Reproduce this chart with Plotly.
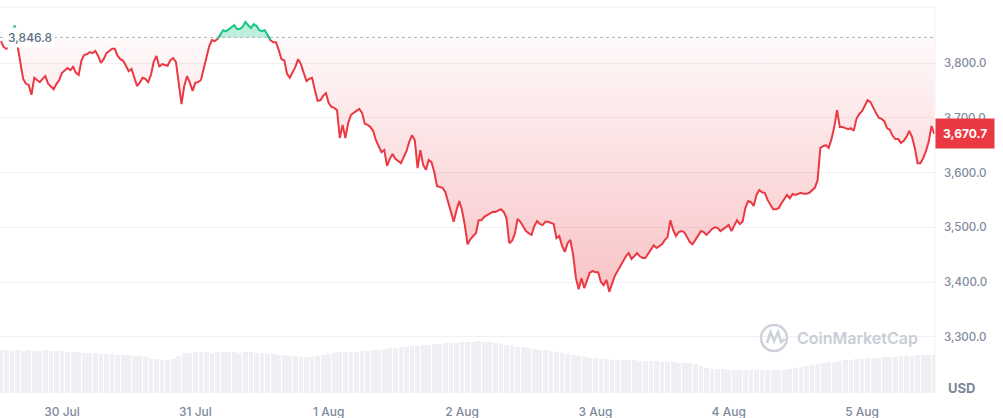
import numpy as np
import pandas as pd
import plotly.graph_objects as go

# ---------------- data ----------------
start_time = "2024-07-29 13:00"          # first price sample, 30-min steps
prices = [
    3840, 3829, 3826, 3840, 3857, 3868, 3831, 3802, 3771, 3762,
    3760, 3742, 3773, 3769, 3765, 3771, 3776, 3762, 3756, 3752,
    3762, 3769, 3782, 3787, 3791, 3787, 3793, 3782, 3778, 3805,
    3815, 3816, 3820, 3818, 3822, 3813, 3800, 3807, 3818, 3822,
    3826, 3826, 3813, 3807, 3804, 3795, 3785, 3789, 3773, 3758,
    3764, 3773, 3771, 3765, 3778, 3802, 3813, 3793, 3798, 3796,
    3795, 3805, 3809, 3802, 3765, 3725, 3758, 3776, 3764, 3749,
    3764, 3765, 3769, 3791, 3809, 3831, 3842, 3840, 3844, 3851,
    3860, 3858, 3862, 3866, 3869, 3862, 3862, 3866, 3875, 3869,
    3864, 3871, 3868, 3860, 3858, 3860, 3851, 3842, 3838, 3838,
    3824, 3807, 3805, 3780, 3773, 3782, 3793, 3807, 3798, 3782,
    3767, 3771, 3773, 3751, 3731, 3732, 3740, 3745, 3727, 3720,
    3718, 3714, 3663, 3687, 3663, 3690, 3705, 3709, 3712, 3716,
    3709, 3689, 3687, 3683, 3676, 3659, 3648, 3637, 3641, 3612,
    3625, 3634, 3625, 3621, 3617, 3628, 3639, 3656, 3668, 3659,
    3608, 3641, 3614, 3605, 3623, 3619, 3601, 3575, 3574, 3572,
    3564, 3546, 3528, 3510, 3531, 3548, 3531, 3504, 3469, 3478,
    3484, 3489, 3513, 3513, 3519, 3522, 3526, 3528, 3528, 3530,
    3533, 3528, 3517, 3471, 3475, 3488, 3515, 3510, 3500, 3493,
    3489, 3486, 3502, 3511, 3506, 3504, 3510, 3510, 3508, 3506,
    3480, 3484, 3466, 3455, 3471, 3477, 3449, 3407, 3387, 3407,
    3389, 3404, 3417, 3420, 3418, 3418, 3400, 3394, 3404, 3382,
    3398, 3411, 3420, 3429, 3440, 3447, 3453, 3442, 3447, 3453,
    3447, 3444, 3444, 3451, 3458, 3467, 3462, 3466, 3469, 3477,
    3482, 3513, 3495, 3484, 3491, 3493, 3491, 3482, 3473, 3469,
    3477, 3484, 3493, 3491, 3486, 3491, 3497, 3500, 3499, 3493,
    3497, 3500, 3504, 3493, 3502, 3513, 3506, 3510, 3535, 3548,
    3546, 3539, 3559, 3568, 3564, 3563, 3550, 3541, 3533, 3533,
    3535, 3544, 3552, 3559, 3553, 3561, 3559, 3561, 3563, 3561,
    3561, 3563, 3568, 3572, 3586, 3645, 3648, 3650, 3645, 3661,
    3683, 3714, 3683, 3683, 3681, 3679, 3681, 3676, 3698, 3707,
    3712, 3721, 3732, 3729, 3718, 3709, 3700, 3698, 3694, 3681,
    3678, 3667, 3661, 3661, 3654, 3658, 3665, 3676, 3665, 3645,
    3617, 3617, 3626, 3639, 3656, 3685, 3670.7,
]
# hourly volume (billions USD), first sample at start_time
volumes = [
    4.46, 4.46, 4.35, 4.46, 4.35, 4.46, 4.35, 4.35, 4.46, 4.35, 4.35,
    4.35, 4.25, 4.25, 4.25, 4.15, 4.15, 4.15, 4.04, 4.04, 4.04,
    3.94, 3.94, 3.94, 3.83, 3.83, 3.73, 3.63,
    3.52, 3.42, 3.42, 3.52, 3.83, 4.15,
    4.15, 4.25, 4.25, 4.25, 4.15, 4.25, 4.25, 4.25, 4.25, 4.15, 4.25, 4.25,
    4.15, 4.15, 4.04, 4.04, 3.94, 3.94, 3.83, 3.83, 3.73, 3.73, 3.73,
    3.83, 3.94, 4.04, 4.15, 4.25, 4.25, 4.25, 4.25, 4.35,
    4.35, 4.46, 4.46, 4.56, 4.66, 4.66, 4.77,
    4.77, 4.87, 4.87, 4.97, 4.97, 5.08, 5.08, 5.18, 5.18, 5.18,
    5.28, 5.28, 5.28, 5.39, 5.28, 5.28,
    5.18, 5.08, 4.97, 4.87, 4.77, 4.77, 4.66, 4.56,
    4.46, 4.46, 4.35, 4.25, 4.15, 4.04, 3.94, 3.83,
    3.73, 3.63, 3.63, 3.52, 3.52, 3.42, 3.42, 3.42,
    3.42, 3.42, 3.32, 3.32, 3.32, 3.32, 3.21, 3.21,
    3.21, 3.11, 3.11, 3.11, 3.01, 2.80, 2.59, 2.49,
    2.49, 2.49, 2.38, 2.38, 2.38, 2.38, 2.38, 2.38, 2.38, 2.38, 2.38, 2.38,
    2.38, 2.49, 2.59, 2.69, 2.80, 2.90, 3.01, 3.11,
    3.21, 3.21, 3.32, 3.42, 3.42, 3.52, 3.52, 3.63, 3.63,
    3.63, 3.73, 3.73, 3.73, 3.83, 3.83, 3.83, 3.94, 3.94, 3.94, 3.94,
]
baseline = 3846.8
last_price = 3670.7
price_ticks = [3300, 3400, 3500, 3600, 3700, 3800]
day_ticks = pd.date_range("2024-07-30", "2024-08-05", freq="D")
x_range = ["2024-07-29 12:50", "2024-08-05 13:08"]
y_range = [3197.3, 3902.3]

# ---------------- styling ----------------
RED = "#ea3943"
GREEN = "#16c784"
GRAY = "#808a9d"
FONT = "Inter, 'Noto Sans', sans-serif"

t0 = pd.Timestamp(start_time)
times = t0 + pd.to_timedelta(np.arange(len(prices)) * 30, unit="min")
vtimes = t0 + pd.to_timedelta(np.arange(len(volumes)), unit="h")

p = np.array(prices, dtype=float)
base = np.full_like(p, baseline)
below = np.minimum(p, baseline)
above = np.maximum(p, baseline)
is_below = p <= baseline
is_above = p >= baseline
red_mask = is_below | np.r_[is_below[1:], False] | np.r_[False, is_below[:-1]]
green_mask = is_above | np.r_[is_above[1:], False] | np.r_[False, is_above[:-1]]
red_line = np.where(red_mask, p, np.nan)
green_line = np.where(green_mask, p, np.nan)

fig = go.Figure()

fig.add_trace(go.Bar(
    x=vtimes, y=volumes, yaxis="y2",
    marker=dict(color="#eef0f4", line=dict(width=0)),
    width=3600 * 1000 * 0.85, hoverinfo="skip",
))

fig.add_trace(go.Scatter(x=times, y=base, mode="lines",
                         line=dict(width=0, color="rgba(0,0,0,0)"), hoverinfo="skip"))
fig.add_trace(go.Scatter(
    x=times, y=below, mode="lines", fill="tonexty",
    line=dict(width=0, color="rgba(0,0,0,0)"),
    fillgradient=dict(type="vertical",
                      colorscale=[[0, "rgba(234,57,67,0.30)"], [1, "rgba(234,57,67,0.03)"]],
                      start=float(p.min()), stop=baseline),
    hoverinfo="skip",
))
fig.add_trace(go.Scatter(x=times, y=base, mode="lines",
                         line=dict(width=0, color="rgba(0,0,0,0)"), hoverinfo="skip"))
fig.add_trace(go.Scatter(
    x=times, y=above, mode="lines", fill="tonexty",
    line=dict(width=0, color="rgba(0,0,0,0)"),
    fillcolor="rgba(22,199,132,0.28)", hoverinfo="skip",
))
fig.add_trace(go.Scatter(x=times, y=red_line, mode="lines",
                         line=dict(color=RED, width=2), connectgaps=False))
fig.add_trace(go.Scatter(x=times, y=green_line, mode="lines",
                         line=dict(color=GREEN, width=2), connectgaps=False))

# baseline dotted
fig.add_shape(type="line", xref="paper", x0=0, x1=1, yref="y", y0=baseline, y1=baseline,
              line=dict(color="#a7b1c2", width=1, dash="dot"))
# frame lines (top & right)
fig.add_shape(type="line", xref="paper", yref="paper", x0=0, x1=1, y0=1, y1=1,
              line=dict(color="#eef0f4", width=1))
fig.add_shape(type="line", xref="paper", yref="paper", x0=1, x1=1, y0=0, y1=1,
              line=dict(color="#eef0f4", width=1))

# watermark logo (decoration)
PW, PH, PB = 935.0, 386.0, 393.0
def px(x, y):
    return x / PW, (PB - y) / PH
cx0, cy0 = px(761, 351)
cx1, cy1 = px(787, 325)
fig.add_shape(type="circle", xref="paper", yref="paper", x0=cx0, y0=cy0, x1=cx1, y1=cy1,
              line=dict(color="#cdd1da", width=2.5))
pts = [px(767, 343), px(770.5, 332), px(774, 341), px(778, 332), px(781, 342), px(785, 339)]
path = "M " + " L ".join(f"{a:.5f},{b:.5f}" for a, b in pts)
fig.add_shape(type="path", xref="paper", yref="paper", path=path,
              line=dict(color="#cdd1da", width=2.5))

wx, wy = px(795, 338)
fig.add_annotation(xref="paper", yref="paper", x=wx, y=wy, xanchor="left", yanchor="middle",
                   text="CoinMarketCap", showarrow=False,
                   font=dict(family=FONT, size=16, color="#c9cdd6", weight=600))

# baseline label
fig.add_annotation(xref="paper", yref="y", x=0, y=baseline, xanchor="left", yanchor="middle",
                   xshift=5, text="3,846.8", showarrow=False, bgcolor="white", borderpad=2,
                   font=dict(family=FONT, size=12, color="#616e85", weight=500))
# last price tag
fig.add_annotation(xref="paper", yref="y", x=1, y=last_price, xanchor="left", yanchor="middle",
                   text=f"{last_price:,.1f}", showarrow=False, bgcolor=RED, borderpad=7,
                   font=dict(family=FONT, size=12, color="white", weight=700))
# currency label
fig.add_annotation(xref="paper", yref="paper", x=1, y=(PB - 388) / PH, xanchor="left",
                   yanchor="middle", xshift=11, text="USD", showarrow=False,
                   font=dict(family=FONT, size=13, color="#7d8799", weight=700))

fig.update_layout(
    width=1003, height=418,
    margin=dict(l=0, r=68, t=7, b=25),
    paper_bgcolor="white", plot_bgcolor="white",
    showlegend=False, bargap=0,
    font=dict(family=FONT, color=GRAY),
    xaxis=dict(type="date", range=x_range, tickvals=list(day_ticks),
               ticktext=[d.strftime("%-d %b") for d in day_ticks],
               showgrid=False, zeroline=False, showline=False, ticks="",
               tickfont=dict(family=FONT, size=12, color=GRAY, weight=500),
               ticklabelstandoff=10),
    yaxis=dict(side="right", range=y_range, tickvals=price_ticks,
               ticktext=[f"{v:,.1f}" for v in price_ticks],
               showgrid=True, gridcolor="#eff1f5", gridwidth=1, zeroline=False,
               showline=False, ticks="",
               tickfont=dict(family=FONT, size=11.5, color=GRAY, weight=500),
               ticklabelstandoff=8),
    yaxis2=dict(overlaying="y", range=[0, 40], visible=False),
)

fig.write_html("out.html", config={"displayModeBar": False},
               post_script="document.body.style.margin='0';document.body.style.padding='0';")
